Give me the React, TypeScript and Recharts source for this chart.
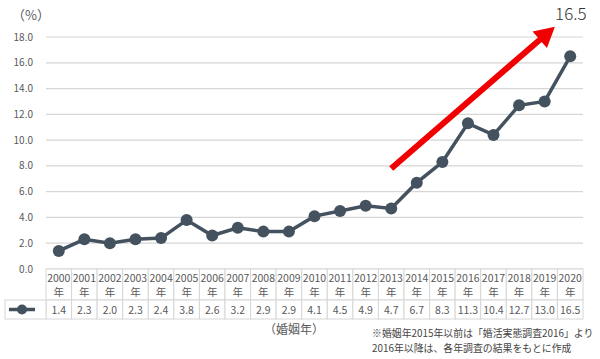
import React from "react";
import { LineChart, Line, XAxis, YAxis, CartesianGrid, ReferenceLine } from "recharts";

const years = ["2000","2001","2002","2003","2004","2005","2006","2007","2008","2009","2010","2011","2012","2013","2014","2015","2016","2017","2018","2019","2020"];
const values = [1.4,2.3,2.0,2.3,2.4,3.8,2.6,3.2,2.9,2.9,4.1,4.5,4.9,4.7,6.7,8.3,11.3,10.4,12.7,13.0,16.5];
const yTicks = [0,2,4,6,8,10,12,14,16,18];
const trendStart = { x: 13.0, y: 7.8 };
const trendEnd = { x: 19.4, y: 18.8 };

const data = years.map((y, i) => ({ idx: i, year: y, value: values[i] }));

const W = 600, H = 359;
const M = { left: 46, right: 17, top: 37, bottom: 90 };
const COLW = (W - M.left - M.right) / years.length;
const FONT = "'Noto Sans CJK JP', 'Noto Sans', sans-serif";
const LINE = "#44525f";
const BORDER = "#d6d6d6";
const TXT = "#595959";

const TableTick = (props: any) => {
  const { x, y, payload } = props;
  const i = payload.value as number;
  const left = x - COLW / 2;
  const top = y;
  const h1 = 31, h2 = 19;
  return (
    <g>
      <rect x={left} y={top} width={COLW} height={h1} fill="#fff" stroke={BORDER} strokeWidth={1} />
      <rect x={left} y={top + h1} width={COLW} height={h2} fill="#fff" stroke={BORDER} strokeWidth={1} />
      <text x={x} y={top + 13} textAnchor="middle" fontSize={10.5} fill={TXT} fontFamily={FONT}>{years[i]}</text>
      <text x={x} y={top + 27} textAnchor="middle" fontSize={10.5} fill={TXT} fontFamily={FONT}>年</text>
      <text x={x} y={top + h1 + 14} textAnchor="middle" fontSize={10.5} fill={TXT} fontFamily={FONT}>{values[i].toFixed(1)}</text>
      {i === 0 && (
        <g>
          <rect x={5} y={top + h1} width={left - 5} height={h2} fill="#fff" stroke={BORDER} strokeWidth={1} />
          <line x1={9} x2={35} y1={top + h1 + h2 / 2} y2={top + h1 + h2 / 2} stroke={LINE} strokeWidth={3.5} />
          <circle cx={22} cy={top + h1 + h2 / 2} r={5} fill={LINE} />
        </g>
      )}
    </g>
  );
};

const Arrow = (props: any) => {
  const { x1, y1, x2, y2 } = props;
  const dx = x2 - x1, dy = y2 - y1;
  const len = Math.sqrt(dx * dx + dy * dy);
  const ux = dx / len, uy = dy / len;
  const px = -uy, py = ux;
  const headL = 20, headW = 11;
  const bx = x2 - ux * headL, by = y2 - uy * headL;
  return (
    <g>
      <line x1={x1} y1={y1} x2={bx + ux * 2} y2={by + uy * 2} stroke="#f00000" strokeWidth={6} />
      <polygon points={`${x2},${y2} ${bx + px * headW},${by + py * headW} ${bx - px * headW},${by - py * headW}`} fill="#f00000" />
      <text x={x2 + 16} y={y2 - 7} textAnchor="middle" fontSize={17} fontWeight={300} fill="#333" fontFamily={FONT}>{values[values.length - 1].toFixed(1)}</text>
    </g>
  );
};

export default function App() {
  return (
    <div style={{ position: "absolute", left: 0, top: 0, width: W, height: H, background: "#fff" }}>
      <LineChart width={W} height={H} data={data} margin={{ left: 0, right: M.right, top: M.top, bottom: 0 }}>
        <CartesianGrid vertical={false} stroke={BORDER} strokeWidth={1.2} />
        <XAxis
          dataKey="idx"
          type="number"
          domain={[-0.5, 20.5]}
          ticks={years.map((_, i) => i)}
          interval={0}
          height={M.bottom}
          axisLine={false}
          tickLine={false}
          tickSize={0}
          tickMargin={0}
          tick={<TableTick />}
        />
        <YAxis
          domain={[0, 18]}
          ticks={yTicks}
          width={M.left}
          axisLine={false}
          tickLine={false}
          tickMargin={7}
          tickFormatter={(v: number) => v.toFixed(1)}
          tick={{ fontSize: 10, fill: TXT, fontFamily: FONT }}
        />
        <Line
          dataKey="value"
          stroke={LINE}
          strokeWidth={3.5}
          dot={{ r: 6, fill: LINE, stroke: LINE, strokeWidth: 0 }}
          activeDot={false}
          isAnimationActive={false}
        />
        <ReferenceLine
          segment={[trendStart, trendEnd]}
          ifOverflow="visible"
          shape={<Arrow />}
        />
        <text x={12} y={20} fontSize={13} fill={TXT} fontFamily={FONT}>（%）</text>
        <text x={264} y={334} fontSize={12} fill={TXT} fontFamily={FONT}>（婚姻年）</text>
        <text x={372} y={337} fontSize={9.9} fill="#444" fontFamily={FONT}>※婚姻年2015年以前は「婚活実態調査2016」より</text>
        <text x={372} y={352} fontSize={9.9} fill="#444" fontFamily={FONT}>2016年以降は、各年調査の結果をもとに作成</text>
      </LineChart>
    </div>
  );
}
